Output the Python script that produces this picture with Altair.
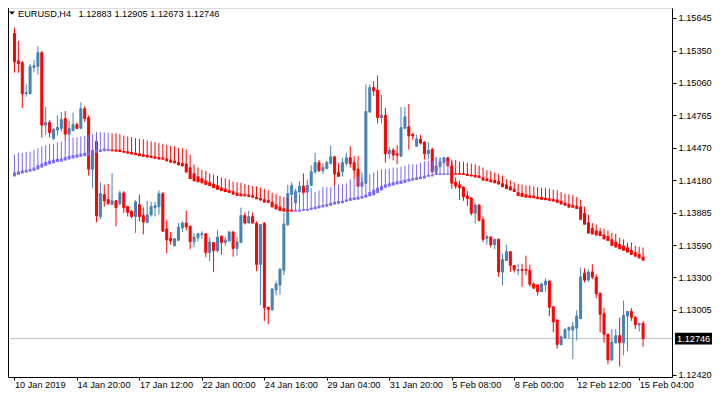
import json
import altair as alt
import pandas as pd

# ---- data (prices in points, 1 point = 0.00001) ----
open_pts = [
    115505, 115257, 115242, 114959, 114959, 115198, 115207, 115331, 114676, 114700,
    114552, 114632, 114647, 114735, 114594, 114629, 114682, 114647, 114824, 114744,
    114278, 114529, 113850, 114048, 114003, 113959, 113992, 113968, 114063, 113939,
    113895, 113850, 113956, 113859, 113797, 113865, 113930, 113939, 114056, 113738,
    113653, 113585, 113635, 113747, 113791, 113762, 113623, 113658, 113685, 113694,
    113525, 113614, 113541, 113673, 113614, 113629, 113711, 113561, 113614, 113859,
    113791, 113850, 113791, 113417, 113789, 113030, 113010, 113186, 113231, 113364,
    113777, 114048, 113974, 114071, 114125, 114071, 114131, 114255, 114337, 114263,
    114284, 114331, 114390, 114248, 114255, 114331, 114381, 114337, 114278, 114122,
    114151, 114795, 115016, 114992, 114744, 114765, 114419, 114449, 114417, 114396,
    114647, 114662, 114594, 114485, 114549, 114523, 114419, 114455, 114248, 114302,
    114337, 114381, 114308, 114160, 114136, 114116, 114036, 114018, 113880, 113954,
    113821, 113653, 113664, 113594, 113644, 113348, 113452, 113532, 113408, 113361,
    113370, 113370, 113364, 113240, 113231, 113171, 113231, 113266, 113033, 112915,
    112691, 112753, 112824, 112824, 112841, 112927, 113337, 113275, 113348, 113302,
    113157, 112971, 112786, 112553, 112709, 112773, 112709, 112950, 112992, 112936,
    112871, 112883,
]
high_pts = [
    115558, 115437, 115255, 115045, 115231, 115266, 115390, 115346, 114841, 114720,
    114647, 114765, 114795, 114803, 114715, 114788, 114700, 114883, 114848, 114765,
    114455, 114609, 114160, 114136, 114145, 114242, 113995, 114086, 114080, 113942,
    113910, 113998, 114048, 113933, 113992, 113983, 113983, 114086, 114071, 113815,
    113709, 113652, 113791, 113806, 113903, 113768, 113697, 113702, 113717, 113697,
    113664, 113620, 113726, 113676, 113664, 113714, 113714, 113664, 113930, 113888,
    113903, 113888, 113806, 113780, 113797, 113033, 113198, 113269, 113384, 113880,
    114136, 114160, 114101, 114169, 114240, 114184, 114313, 114425, 114361, 114331,
    114352, 114490, 114393, 114331, 114381, 114425, 114485, 114396, 114396, 114248,
    115045, 115045, 115074, 115125, 114948, 114830, 114476, 114470, 114494, 114839,
    114839, 114868, 114603, 114588, 114588, 114529, 114523, 114470, 114387, 114381,
    114390, 114387, 114346, 114204, 114175, 114122, 114080, 114021, 113974, 113957,
    113850, 113688, 113673, 113649, 113649, 113511, 113594, 113535, 113411, 113423,
    113423, 113496, 113414, 113255, 113234, 113251, 113290, 113269, 113039, 112917,
    112773, 112841, 112850, 112897, 113001, 113390, 113381, 113372, 113417, 113328,
    113160, 113025, 112788, 112832, 112832, 112936, 113089, 112995, 113021, 112950,
    112889, 112905,
]
low_pts = [
    115151, 115148, 114830, 114933, 114955, 115154, 115133, 114564, 114587, 114564,
    114548, 114582, 114618, 114534, 114543, 114618, 114641, 114643, 114706, 114219,
    114110, 113797, 113826, 113939, 113954, 113954, 113762, 113954, 113880, 113850,
    113835, 113702, 113806, 113688, 113791, 113850, 113850, 113865, 113713, 113517,
    113594, 113582, 113629, 113711, 113724, 113553, 113570, 113623, 113649, 113481,
    113446, 113348, 113525, 113505, 113585, 113623, 113487, 113496, 113610, 113777,
    113788, 113786, 113357, 113048, 112906, 112877, 112995, 113136, 113142, 113320,
    113762, 114027, 113954, 114068, 114042, 114056, 114128, 114234, 114255, 114234,
    114278, 114322, 114125, 114210, 114210, 114308, 114293, 114189, 114116, 114116,
    114145, 114786, 114942, 114691, 114691, 114337, 114372, 114357, 114322, 114387,
    114643, 114455, 114543, 114482, 114499, 114366, 114366, 114240, 114228, 114293,
    114328, 114305, 114101, 114101, 113998, 113992, 113945, 113859, 113786, 113806,
    113620, 113594, 113570, 113555, 113304, 113225, 113449, 113348, 113343, 113320,
    113216, 113320, 113216, 113195, 113136, 113166, 113168, 112950, 112803, 112655,
    112685, 112744, 112744, 112561, 112729, 112921, 113253, 113262, 113284, 113113,
    112803, 112709, 112514, 112544, 112700, 112493, 112596, 112633, 112906, 112832,
    112810, 112673,
]
close_pts = [
    115248, 115233, 114959, 114971, 115207, 115213, 115331, 114676, 114700, 114609,
    114638, 114656, 114726, 114594, 114647, 114682, 114647, 114824, 114735, 114278,
    114449, 113856, 114056, 113992, 113968, 113992, 113930, 114063, 113930, 113888,
    113850, 113983, 113850, 113800, 113865, 113939, 113948, 114056, 113717, 113638,
    113629, 113649, 113753, 113791, 113756, 113623, 113664, 113694, 113694, 113525,
    113620, 113541, 113664, 113614, 113638, 113711, 113561, 113620, 113859, 113791,
    113850, 113791, 113417, 113777, 113025, 113010, 113195, 113240, 113372, 113783,
    114056, 114131, 114078, 114125, 114065, 114131, 114255, 114337, 114263, 114293,
    114337, 114390, 114234, 114213, 114337, 114381, 114328, 114269, 114122, 114160,
    114800, 115016, 114986, 114744, 114765, 114417, 114449, 114405, 114405, 114653,
    114750, 114579, 114579, 114552, 114514, 114417, 114449, 114257, 114308, 114346,
    114381, 114308, 114151, 114125, 114110, 114027, 114012, 113880, 113954, 113815,
    113644, 113667, 113594, 113644, 113348, 113461, 113532, 113408, 113370, 113370,
    113361, 113364, 113237, 113202, 113171, 113240, 113266, 113030, 112897, 112694,
    112762, 112826, 112848, 112856, 112950, 113304, 113275, 113348, 113302, 113151,
    112965, 112786, 112553, 112715, 112773, 112709, 112956, 112992, 112936, 112871,
    112883, 112746,
]
# indicator: thick band (lo..hi) and thin line up to top
ind_hi_pts = [
    114248, 114257, 114266, 114269, 114278, 114293, 114313, 114328, 114343, 114355,
    114364, 114372, 114375, 114387, 114399, 114405, 114411, 114419, 114426, 114428,
    114440, 114452, 114455, 114464, 114461, 114455, 114455, 114455, 114443, 114440,
    114432, 114426, 114419, 114411, 114405, 114399, 114393, 114387, 114384, 114375,
    114364, 114355, 114343, 114333, 114328, 114293, 114240, 114213, 114195, 114175,
    114160, 114145, 114131, 114110, 114101, 114086, 114078, 114065, 114056, 114051,
    114048, 114042, 114027, 114018, 114007, 113998, 113983, 113959, 113939, 113924,
    113910, 113910, 113910, 113910, 113918, 113918, 113930, 113939, 113948, 113954,
    113963, 113974, 113983, 113989, 113992, 114003, 114018, 114021, 114027, 114033,
    114048, 114071, 114092, 114110, 114125, 114140, 114151, 114160, 114169, 114175,
    114184, 114189, 114198, 114204, 114210, 114219, 114228, 114228, 114240, 114240,
    114240, 114240, 114242, 114242, 114242, 114240, 114234, 114228, 114225, 114219,
    114204, 114195, 114184, 114180, 114169, 114151, 114140, 114122, 114101, 114071,
    114063, 114051, 114042, 114039, 114027, 114027, 114018, 114012, 114007, 114003,
    113992, 113974, 113963, 113954, 113948, 113939, 113880, 113797, 113747, 113724,
    113717, 113688, 113673, 113644, 113623, 113600, 113585, 113570, 113547, 113525,
    113511, 113487,
]
ind_lo_pts = [
    114213, 114228, 114240, 114248, 114257, 114263, 114275, 114293, 114308, 114322,
    114331, 114343, 114346, 114357, 114366, 114375, 114381, 114390, 114396, 114402,
    114417, 114426, 114434, 114440, 114443, 114440, 114437, 114434, 114426, 114419,
    114411, 114405, 114396, 114390, 114384, 114379, 114372, 114366, 114364, 114349,
    114337, 114331, 114313, 114304, 114248, 114189, 114169, 114160, 114151, 114136,
    114125, 114107, 114092, 114080, 114071, 114063, 114048, 114036, 114033, 114033,
    114027, 114021, 114007, 113995, 113977, 113974, 113933, 113915, 113901, 113895,
    113895, 113895, 113895, 113895, 113903, 113903, 113910, 113915, 113924, 113933,
    113939, 113948, 113959, 113965, 113971, 113983, 113992, 113998, 114003, 114012,
    114021, 114033, 114042, 114063, 114086, 114110, 114122, 114131, 114140, 114145,
    114154, 114166, 114175, 114180, 114189, 114195, 114209, 114213, 114225, 114225,
    114225, 114228, 114228, 114228, 114228, 114225, 114216, 114213, 114204, 114198,
    114175, 114169, 114160, 114151, 114140, 114116, 114098, 114086, 114071, 114036,
    114027, 114021, 114018, 114016, 114007, 114001, 113998, 113992, 113986, 113974,
    113959, 113948, 113930, 113930, 113918, 113821, 113777, 113697, 113688, 113679,
    113673, 113644, 113629, 113585, 113570, 113555, 113541, 113525, 113502, 113487,
    113472, 113452,
]
ind_top_pts = [
    114411, 114426, 114426, 114432, 114437, 114455, 114470, 114485, 114494, 114505,
    114508, 114520, 114529, 114538, 114552, 114564, 114567, 114573, 114579, 114588,
    114594, 114611, 114609, 114609, 114609, 114603, 114603, 114594, 114582, 114573,
    114567, 114558, 114552, 114547, 114538, 114529, 114523, 114514, 114508, 114499,
    114490, 114485, 114470, 114466, 114455, 114408, 114322, 114293, 114272, 114263,
    114240, 114228, 114219, 114204, 114195, 114184, 114166, 114160, 114154, 114145,
    114136, 114125, 114122, 114110, 114101, 114086, 114065, 114056, 114036, 114027,
    114021, 114027, 114086, 114056, 114071, 114086, 114107, 114071, 114086, 114116,
    114116, 114116, 114131, 114136, 114142, 114151, 114187, 114187, 114213, 114204,
    114231, 114231, 114248, 114266, 114278, 114278, 114284, 114293, 114293, 114299,
    114308, 114322, 114322, 114322, 114337, 114352, 114352, 114352, 114387, 114381,
    114381, 114352, 114364, 114359, 114346, 114346, 114337, 114328, 114322, 114308,
    114293, 114269, 114263, 114248, 114234, 114219, 114189, 114175, 114160, 114145,
    114140, 114131, 114131, 114122, 114116, 114110, 114110, 114101, 114092, 114086,
    114071, 114056, 114051, 114042, 114027, 114001, 113939, 113868, 113791, 113777,
    113747, 113741, 113724, 113702, 113694, 113658, 113644, 113614, 113614, 113585,
    113576, 113570,
]
trend_runs = [("up", 25), ("down", 47), ("up", 40), ("down", 50)]

tick_bars = [0, 16, 32, 48, 64, 80, 96, 112, 128, 144, 160]
tick_labels = ["10 Jan 2019", "14 Jan 20:00", "17 Jan 12:00", "22 Jan 00:00",
               "24 Jan 16:00", "29 Jan 04:00", "31 Jan 20:00", "5 Feb 08:00",
               "8 Feb 00:00", "12 Feb 12:00", "15 Feb 04:00"]
price_ticks = [1.15645, 1.15350, 1.15060, 1.14765, 1.14470, 1.14180,
               1.13885, 1.13590, 1.13300, 1.13005, 1.12420]
last_price = 1.12746
header_symbol = "EURUSD,H4"
header_ohlc = ["1.12883", "1.12905", "1.12673", "1.12746"]

# ---- table ----
n = len(open_pts)
trend = [t for t, k in trend_runs for _ in range(k)]
df = pd.DataFrame({
    "i": list(range(n)),
    "o": [v / 1e5 for v in open_pts],
    "h": [v / 1e5 for v in high_pts],
    "l": [v / 1e5 for v in low_pts],
    "c": [v / 1e5 for v in close_pts],
    "ihi": [v / 1e5 for v in ind_hi_pts],
    "ilo": [v / 1e5 for v in ind_lo_pts],
    "itop": [v / 1e5 for v in ind_top_pts],
    "trend": trend,
})

FONT = "Liberation Sans"
FS = 9.2
W, H = 664, 369
BULL, BEAR, IND_UP = "#4682B4", "#FF0000", "#7B68EE"

xs = alt.Scale(domain=[-0.375, 167.125], nice=False, zero=False)
ys = alt.Scale(domain=[1.12399, 1.15735], nice=False, zero=False)

label_expr = f"{json.dumps(tick_labels)}[indexof({json.dumps(tick_bars)}, datum.value)]"
x_axis = alt.Axis(values=tick_bars, labelExpr=label_expr, orient="bottom",
                  domainColor="black", tickColor="black", tickSize=3,
                  labelAlign="left", labelBaseline="top", labelPadding=0,
                  labelFlush=False, labelOverlap=False, labelBound=False,
                  labelFont=FONT, labelFontSize=FS, labelColor="black",
                  grid=False, title=None)
y_axis = alt.Axis(values=price_ticks, format=".5f", orient="right",
                  domainColor="black", tickColor="black", tickSize=4,
                  labelPadding=2, labelFont=FONT, labelFontSize=FS,
                  labelColor="black", grid=False, title=None,
                  labelOverlap=False, labelFlush=False, labelBound=False)


def X(field):
    return alt.X(field, scale=xs, axis=x_axis)


def Y(field):
    return alt.Y(field, scale=ys, axis=y_axis)


candle_color = alt.condition("datum.c >= datum.o", alt.value(BULL), alt.value(BEAR))
ind_color = alt.condition("datum.trend == 'up'", alt.value(IND_UP), alt.value(BEAR))

base = alt.Chart(df)

wicks = base.mark_rule(strokeWidth=1).encode(
    x=X("i:Q"), y=Y("l:Q"), y2="h:Q", color=candle_color)

bodies = base.mark_bar(size=2, strokeWidth=1).encode(
    x=X("i:Q"), y=Y("o:Q"), y2="c:Q", color=candle_color, stroke=candle_color)

ind_lines = base.mark_rule(strokeWidth=1).encode(
    x=X("i:Q"), y=Y("ilo:Q"), y2="itop:Q", color=ind_color)

ind_band = base.mark_bar(size=3).encode(
    x=X("i:Q"), y=Y("ilo:Q"), y2="ihi:Q", color=ind_color)

price_line = alt.Chart(pd.DataFrame({"p": [last_price]})).mark_rule(
    color="#C0C0C0", strokeWidth=1).encode(
    y=Y("p:Q"), x=alt.value(0), x2=alt.value(W))

left_border = alt.Chart(pd.DataFrame({"k": [0]})).mark_rule(
    color="black", strokeWidth=1).encode(
    x=alt.value(0.5), y=alt.value(0), y2=alt.value(H))

box_df = pd.DataFrame({"p": [last_price], "t": [f"{last_price:.5f}"]})
price_box = alt.Chart(box_df).transform_calculate(
    top="datum.p + 0.00054", bot="datum.p - 0.00054").mark_rect(color="black").encode(
    x=alt.value(W + 3), x2=alt.value(W + 40), y=Y("top:Q"), y2="bot:Q")
price_box_text = alt.Chart(box_df).mark_text(
    align="left", baseline="middle", color="white", font=FONT, fontSize=FS).encode(
    x=alt.value(W + 5), y=Y("p:Q"), text="t:N")

# header: triangle, symbol and the last bar's OHLC
head_layers = []
tri_df = pd.DataFrame({"t": [header_symbol]})
head_layers.append(alt.Chart(tri_df).mark_point(
    shape="M-1,-0.5L1,-0.5L0,0.5Z", size=36, filled=True, color="black",
    opacity=1, strokeWidth=0).encode(x=alt.value(4), y=alt.value(5)))
head_layers.append(alt.Chart(tri_df).mark_text(
    align="left", baseline="middle", color="black", font=FONT, fontSize=FS).encode(
    x=alt.value(10), y=alt.value(5.5), text="t:N"))
for k, val in enumerate(header_ohlc):
    head_layers.append(alt.Chart(pd.DataFrame({"t": [val]})).mark_text(
        align="left", baseline="middle", color="black", font=FONT, fontSize=FS).encode(
        x=alt.value(70.5 + 35.9 * k), y=alt.value(5.5), text="t:N"))

chart = alt.layer(
    price_line, wicks, bodies, ind_lines, ind_band, left_border,
    price_box, price_box_text, *head_layers
).properties(
    width=W, height=H,
    autosize=alt.AutoSizeParams(type="none"),
    padding={"left": 0, "top": 0, "right": 40, "bottom": 15},
).configure_view(stroke=None).configure(background="white")

chart.save("out.html", embed_options={"renderer": "svg", "actions": False})
